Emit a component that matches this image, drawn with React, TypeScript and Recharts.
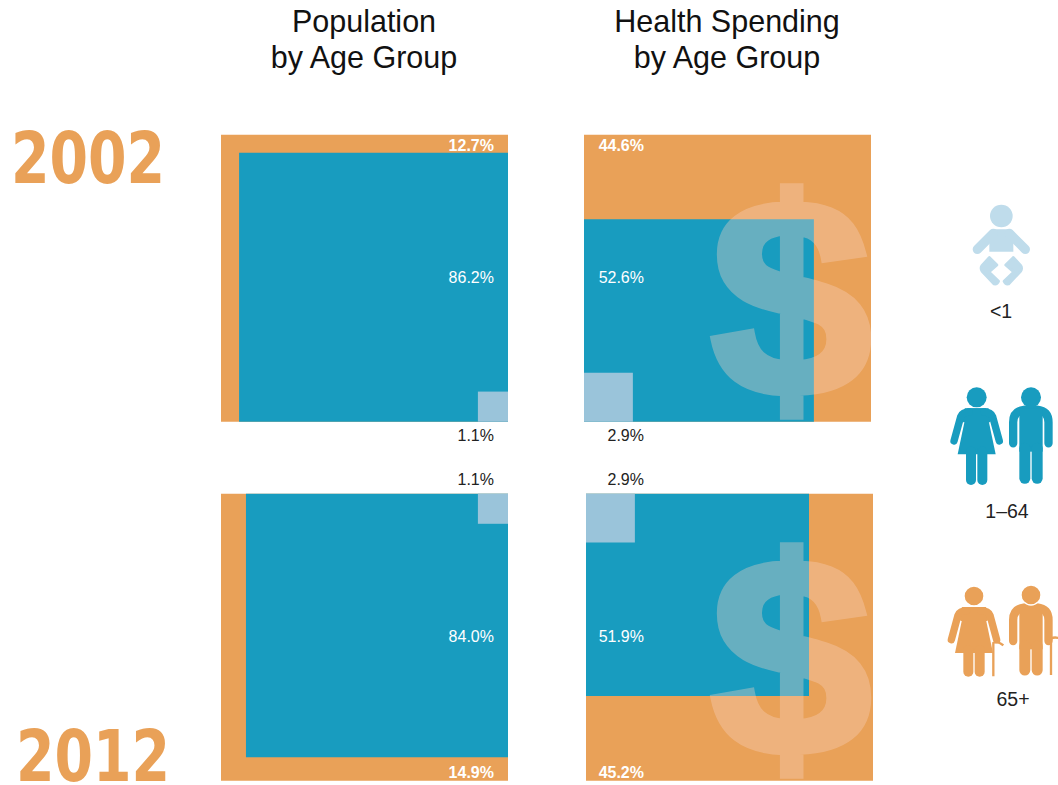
import * as React from "react"
import { ComposedChart, ReferenceArea, Scatter, XAxis, YAxis } from "recharts"

// shares in percent: [<1, 1-64, 65+]
const ageGroups = ["<1", "1–64", "65+"]
const years = ["2002", "2012"]
const population2002 = [1.1, 86.2, 12.7]
const population2012 = [1.1, 84.0, 14.9]
const spending2002 = [2.9, 52.6, 44.6]
const spending2012 = [2.9, 51.9, 45.2]

// extent of the blue block, percent of the square's side
const populationBlockWidth = [93.7, 91.3]
const populationBlockHeight = [93.7, 91.8]
const spendingBlockWidth = [80.1, 77.7]
const spendingBlockHeight = [70.5, 70.5]

const ORANGE = "#E9A158"
const BLUE = "#189CBF"
const PALE = "#9AC4DA"
const SANS = "'Liberation Sans', Arial, sans-serif"
const YEAR_FONT = "'DejaVu Sans', sans-serif"

const SIDE = 287
const PAD = 10 // axis units kept either side of the square for the outside labels
const CHART_H = SIDE * (1 + (2 * PAD) / 100)

type LabelPoint = { x: number; y: number; text: string; color: string; bold?: boolean }

const LabelShape = (props: any) => {
  const { cx, cy, payload } = props
  return (
    <text
      x={cx}
      y={cy}
      dy="0.35em"
      textAnchor="end"
      fontFamily={SANS}
      fontSize={16}
      fontWeight={payload.bold ? "bold" : "normal"}
      fill={payload.color}
    >
      {payload.text}
    </text>
  )
}

interface PanelProps {
  left: number
  top: number
  shares: number[]
  blockW: number
  blockH: number
  // true for the top row, the blue block sits at the bottom of the square
  bottomUp: boolean
  // blue block flush right (population) or flush left (spending)
  alignRight: boolean
  labelX: number
}

const Panel = ({ left, top, shares, blockW, blockH, bottomUp, alignRight, labelX }: PanelProps) => {
  const paleSide = Math.sqrt(shares[0]) * 10
  const x = (w: number) => (alignRight ? [100 - w, 100] : [0, w])
  const blockX = x(blockW)
  const paleX = x(paleSide)
  const blockY = bottomUp ? [0, blockH] : [100 - blockH, 100]
  const paleY = bottomUp ? [0, paleSide] : [100 - paleSide, 100]

  const labels: LabelPoint[] = [
    { x: labelX, y: bottomUp ? -4.9 : 105, text: shares[0].toFixed(1) + "%", color: "#222" },
    { x: labelX, y: 50.3, text: shares[1].toFixed(1) + "%", color: "#fff" },
    { x: labelX, y: bottomUp ? 96.2 : 2.9, text: shares[2].toFixed(1) + "%", color: "#fff", bold: true },
  ]

  return (
    <div style={{ position: "absolute", left, top: top - (SIDE * PAD) / 100 }}>
      <ComposedChart width={SIDE} height={CHART_H} margin={{ top: 0, right: 0, bottom: 0, left: 0 }}>
        <XAxis hide type="number" dataKey="x" domain={[0, 100]} />
        <YAxis hide type="number" dataKey="y" domain={[-PAD, 100 + PAD]} />
        <ReferenceArea x1={0} x2={100} y1={0} y2={100} fill={ORANGE} fillOpacity={1} stroke="none" />
        <ReferenceArea x1={blockX[0]} x2={blockX[1]} y1={blockY[0]} y2={blockY[1]} fill={BLUE} fillOpacity={1} stroke="none" />
        <ReferenceArea x1={paleX[0]} x2={paleX[1]} y1={paleY[0]} y2={paleY[1]} fill={PALE} fillOpacity={1} stroke="none" />
        <Scatter data={labels} shape={LabelShape} isAnimationActive={false} />
      </ComposedChart>
    </div>
  )
}

const Dollar = ({ left, top, centre, baseline }: { left: number; top: number; centre: number; baseline: number }) => (
  <svg
    width={SIDE}
    height={SIDE}
    style={{ position: "absolute", left, top, overflow: "hidden", pointerEvents: "none" }}
  >
    <g opacity={0.35} transform={`translate(${centre} ${baseline}) scale(1.03 1)`}>
      <text
        textAnchor="middle"
        fontFamily={SANS}
        fontWeight="bold"
        fontSize={280}
        fill="#FAD4C4"
        stroke="#FAD4C4"
        strokeWidth={8}
      >
        $
      </text>
    </g>
  </svg>
)

const Woman = ({ color, dx, dy, legEnd, cane }: { color: string; dx: number; dy: number; legEnd: number; cane?: boolean }) => (
  <g transform={`translate(${dx} ${dy})`} fill={color} stroke="none">
    <path d="M112 100H168L197 238H83Z" />
    <path d="M105 100H175L190 120L180 142H100L90 120Z" />
    <path d="M118 111Q98 111 92 125L72 198M162 111Q182 111 188 125L208 198" fill="none" stroke={color} strokeWidth={22} strokeLinecap="round" />
    <line x1={123} y1={230} x2={123} y2={legEnd} stroke={color} strokeWidth={30} strokeLinecap="round" />
    <line x1={157} y1={230} x2={157} y2={legEnd} stroke={color} strokeWidth={30} strokeLinecap="round" />
    {cane && <path d="M198 308V208Q210 200 228 215" fill="none" stroke="#E9A158" strokeWidth={7} />}
    <circle cx={140} cy={67} r={30} stroke={cane ? "#fff" : "none"} strokeWidth={cane ? 4 : 0} />
  </g>
)

const Man = ({ color, dy, legEnd, cane }: { color: string; dy: number; legEnd: number; cane?: boolean }) => (
  <g transform={`translate(0 ${dy})`} fill={color} stroke="none">
    <path d="M249.5 205V142Q249.5 108 285 104H321Q355.5 108 355.5 142V205" fill="none" stroke={color} strokeWidth={25} strokeLinecap="round" />
    <rect x={268} y={100} width={70} height={130} />
    <line x1={284.5} y1={220} x2={284.5} y2={legEnd} stroke={color} strokeWidth={33} strokeLinecap="round" />
    <line x1={321.5} y1={220} x2={321.5} y2={legEnd} stroke={color} strokeWidth={33} strokeLinecap="round" />
    {cane && <path d="M363 307V198Q372 192 386 196" fill="none" stroke="#E9A158" strokeWidth={7} />}
    <circle cx={303} cy={67} r={30} stroke={cane ? "#fff" : "none"} strokeWidth={cane ? 4 : 0} />
  </g>
)

const Icons = () => (
  <svg width={128} height={540} viewBox="0 0 384 1620" style={{ position: "absolute", left: 930, top: 190, overflow: "visible" }}>
    {/* baby */}
    <g fill="#BFDCEB" stroke="none">
      <circle cx={214} cy={78} r={34} />
      <path d="M192 118H236Q246 118 250 128V185H178V128Q182 118 192 118Z" />
      <path d="M190 130L142 178M238 130L286 178" stroke="#BFDCEB" strokeWidth={28} strokeLinecap="round" />
      <path d="M178 202L201 225L177 246L206 274Q202 284 192 282L156 244Q150 234 156 226Z" stroke="#BFDCEB" strokeWidth={8} strokeLinejoin="round" />
      <path d="M250 202L227 225L251 246L222 274Q226 284 236 282L272 244Q278 234 272 226Z" stroke="#BFDCEB" strokeWidth={8} strokeLinejoin="round" />
    </g>
    {/* adults */}
    <g transform="translate(0 555)">
      <Woman color={BLUE} dx={0} dy={0} legEnd={315} />
      <Man color={BLUE} dy={0} legEnd={310} />
    </g>
    {/* seniors */}
    <g transform="translate(0 1140)">
      <Woman color={ORANGE} dx={-8} dy={11} legEnd={294} cane />
      <Man color={ORANGE} dy={8} legEnd={292} cane />
    </g>
  </svg>
)

const titleStyle: React.CSSProperties = {
  position: "absolute",
  width: 320,
  textAlign: "center",
  fontFamily: SANS,
  fontSize: 30.5,
  lineHeight: "36px",
  color: "#111",
}

const captionStyle: React.CSSProperties = {
  position: "absolute",
  width: 80,
  textAlign: "center",
  fontFamily: SANS,
  fontSize: 19.5,
  color: "#222",
}

const Year = ({ x, y, text }: { x: number; y: number; text: string }) => (
  <g transform={`translate(${x} ${y}) scale(0.78 1)`}>
    <text fontFamily={YEAR_FONT} fontWeight="bold" fontSize={71} fill={ORANGE}>{text}</text>
  </g>
)

export default function App() {
  return (
    <div style={{ position: "absolute", left: 0, top: 0, width: 1058, height: 785, background: "#fff", overflow: "hidden" }}>
      <div style={{ ...titleStyle, left: 204, top: 3 }}>Population<br />by Age Group</div>
      <div style={{ ...titleStyle, left: 567, top: 3 }}>Health Spending<br />by Age Group</div>

      <svg width={200} height={785} style={{ position: "absolute", left: 0, top: 0 }}>
        <Year x={11} y={183} text={years[0]} />
        <Year x={16} y={781} text={years[1]} />
      </svg>

      <Panel left={221} top={135} shares={population2002} blockW={populationBlockWidth[0]} blockH={populationBlockHeight[0]} bottomUp alignRight labelX={95.1} />
      <Panel left={221} top={494} shares={population2012} blockW={populationBlockWidth[1]} blockH={populationBlockHeight[1]} bottomUp={false} alignRight labelX={95.1} />
      <Panel left={584} top={135} shares={spending2002} blockW={spendingBlockWidth[0]} blockH={spendingBlockHeight[0]} bottomUp alignRight={false} labelX={20.9} />
      <Panel left={586} top={494} shares={spending2012} blockW={spendingBlockWidth[1]} blockH={spendingBlockHeight[1]} bottomUp={false} alignRight={false} labelX={20.2} />

      <Dollar left={584} top={135} centre={207} baseline={260} />
      <Dollar left={586} top={494} centre={205} baseline={260} />

      <Icons />
      <div style={{ ...captionStyle, left: 961, top: 300 }}>{ageGroups[0]}</div>
      <div style={{ ...captionStyle, left: 967, top: 500 }}>{ageGroups[1]}</div>
      <div style={{ ...captionStyle, left: 973, top: 688 }}>{ageGroups[2]}</div>
    </div>
  )
}
